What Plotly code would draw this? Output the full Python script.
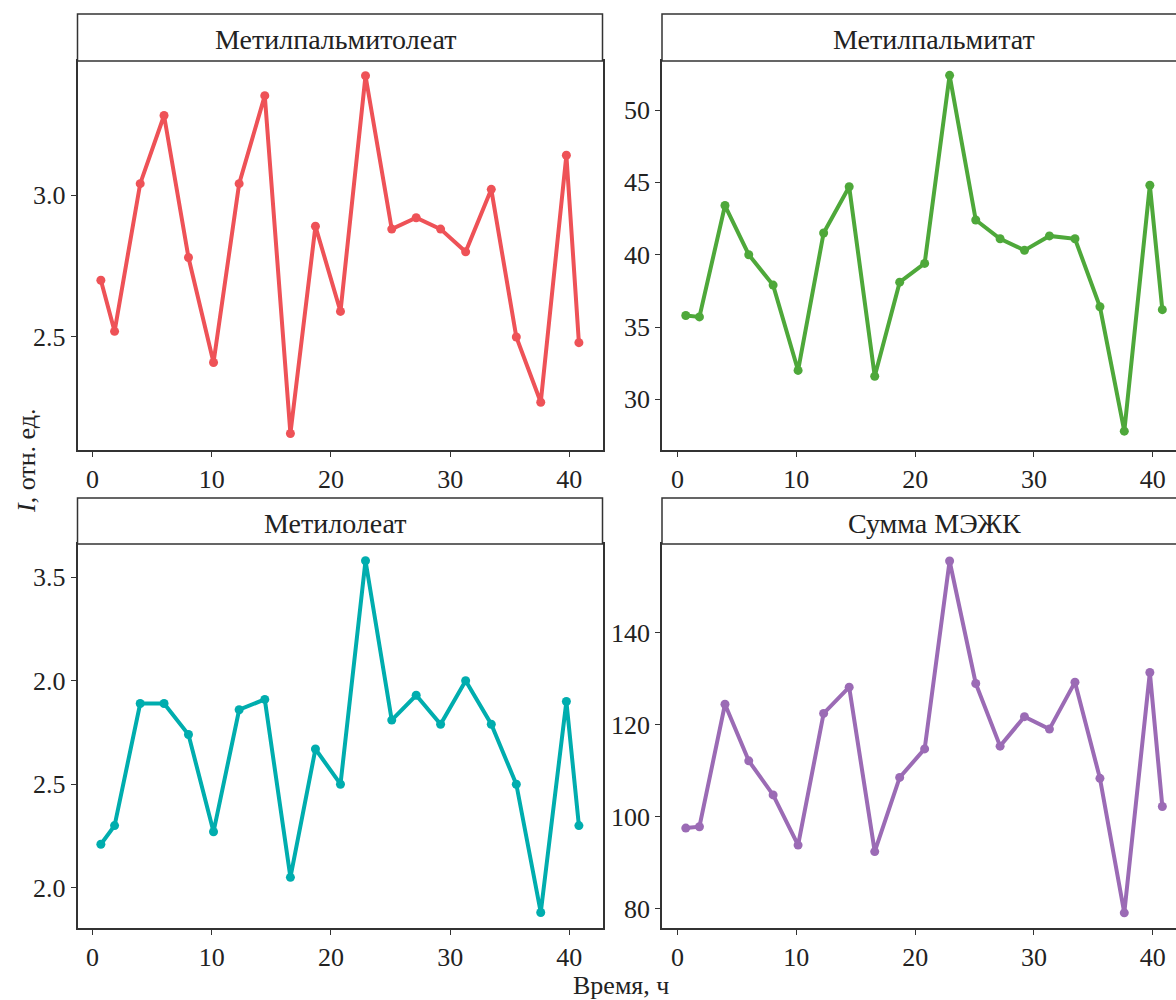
import plotly.graph_objects as go

# ---- data ----
times = [0.7, 1.85, 4.0, 6.0, 8.05, 10.15, 12.3, 14.45, 16.6, 18.7, 20.8,
         22.9, 25.1, 27.15, 29.2, 31.3, 33.45, 35.55, 37.6, 39.75, 40.8]

palmitoleate = [2.70, 2.52, 3.04, 3.28, 2.78, 2.41, 3.04, 3.35, 2.16, 2.89, 2.59,
                3.42, 2.88, 2.92, 2.88, 2.80, 3.02, 2.50, 2.27, 3.14, 2.48]
palmitate = [35.8, 35.7, 43.4, 40.0, 37.9, 32.0, 41.5, 44.7, 31.6, 38.1, 39.4,
             52.4, 42.4, 41.1, 40.3, 41.3, 41.1, 36.4, 27.8, 44.8, 36.2]
oleate = [2.21, 2.30, 2.89, 2.89, 2.74, 2.27, 2.86, 2.91, 2.05, 2.67, 2.50,
          3.58, 2.81, 2.93, 2.79, 3.00, 2.79, 2.50, 1.88, 2.90, 2.30]
total = [97.5, 97.8, 124.4, 112.1, 104.7, 93.8, 122.4, 128.1, 92.4, 108.5, 114.7,
         155.5, 128.9, 115.3, 121.7, 119.0, 129.2, 108.3, 79.1, 131.3, 102.2]

titles = ["Метилпальмитолеат", "Метилпальмитат", "Метилолеат", "Сумма МЭЖК"]
colors = ["#EE5257", "#4EA83A", "#00ADAE", "#9B6BB5"]

y_tickvals = [[2.5, 3.0], [30, 35, 40, 45, 50], [2.0, 2.5, 3.0, 3.5], [80, 100, 120, 140]]
y_ticktext = [["2.5", "3.0"], ["30", "35", "40", "45", "50"],
              ["2.0", "2.5", "2.0", "3.5"], ["80", "100", "120", "140"]]
x_tickvals = [0, 10, 20, 30, 40]
x_axis_title = "Время, ч"
y_axis_title = "<i>I</i>, отн. ед."

# ---- layout geometry (pixels) ----
W, H = 1176, 1000
FONT = "Liberation Serif"
ink = "#333333"
TICK_SIZE = 26
TITLE_SIZE = 28
AXIS_TITLE_SIZE = 26

# panel pixel boxes: (x0, x1, ytop, ybottom)
panels = [
    (77.5, 602.5, 61, 450),
    (662.0, 1176.0, 61, 450),
    (77.5, 602.5, 544, 928),
    (662.0, 1176.0, 544, 928),
]
strip_tops = [14, 14, 498, 498]
title_cx = [335, 934, 335, 934]
x_ranges = [[-1.26, 42.78], [-1.3, 41.95], [-1.26, 42.78], [-1.3, 41.95]]
y_ranges = [[2.102, 3.472], [26.5, 53.39], [1.805, 3.661], [75.8, 159.2]]
series = [palmitoleate, palmitate, oleate, total]

fig = go.Figure()
layout = dict(
    width=W, height=H,
    margin=dict(l=0, r=0, t=0, b=0),
    paper_bgcolor="white", plot_bgcolor="white",
    showlegend=False,
    font=dict(family=FONT, size=TICK_SIZE, color="#222222"),
)
shapes = []
annotations = []

for i in range(4):
    n = "" if i == 0 else str(i + 1)
    x0, x1, yt, yb = panels[i]
    right = i in (1, 3)
    fig.add_trace(go.Scatter(
        x=times, y=series[i], mode="lines+markers",
        line=dict(color=colors[i], width=4),
        marker=dict(color=colors[i], size=9),
        xaxis="x" + n, yaxis="y" + n, cliponaxis=False,
    ))
    layout["xaxis" + n] = dict(
        domain=[x0 / W, x1 / W], anchor="y" + n, range=x_ranges[i],
        tickvals=x_tickvals, ticks="outside", ticklen=5, tickwidth=1.3, tickcolor=ink,
        showline=True, linecolor=ink, linewidth=1.5, mirror=True,
        showgrid=False, zeroline=False,
        tickfont=dict(family=FONT, size=TICK_SIZE, color="#222222"),
    )
    layout["yaxis" + n] = dict(
        domain=[1 - yb / H, 1 - yt / H], anchor="x" + n, range=y_ranges[i],
        tickvals=y_tickvals[i], ticktext=y_ticktext[i],
        ticks="outside", ticklen=5, tickwidth=1.3, tickcolor=ink,
        showline=True, linecolor=ink, linewidth=1.5, mirror=(not right),
        showgrid=False, zeroline=False,
        tickfont=dict(family=FONT, size=TICK_SIZE, color="#222222"),
    )
    # strip box
    sx1 = (1187 / W) if right else x1 / W
    shapes.append(dict(type="rect", xref="paper", yref="paper",
                       x0=x0 / W, x1=sx1, y0=1 - yt / H, y1=1 - strip_tops[i] / H,
                       line=dict(color=ink, width=1.5), fillcolor="white", layer="above"))
    annotations.append(dict(text=titles[i], xref="paper", yref="paper",
                            x=title_cx[i] / W, y=1 - (yt + strip_tops[i]) / 2 / H - 0.0025,
                            showarrow=False, xanchor="center", yanchor="middle",
                            font=dict(family=FONT, size=TITLE_SIZE, color="#222222")))

annotations.append(dict(text=x_axis_title, xref="paper", yref="paper",
                        x=621 / W, y=1 - 985 / H, showarrow=False,
                        xanchor="center", yanchor="middle",
                        font=dict(family=FONT, size=AXIS_TITLE_SIZE, color="#222222")))
annotations.append(dict(text=y_axis_title, xref="paper", yref="paper",
                        x=26 / W, y=1 - 461 / H, showarrow=False, textangle=-90,
                        xanchor="center", yanchor="middle",
                        font=dict(family=FONT, size=AXIS_TITLE_SIZE, color="#222222")))

layout["shapes"] = shapes
layout["annotations"] = annotations
fig.update_layout(**layout)
fig.write_html(
    "out.html",
    config={"displayModeBar": False},
    post_script="document.body.style.margin='0';document.body.style.overflow='hidden';",
)
